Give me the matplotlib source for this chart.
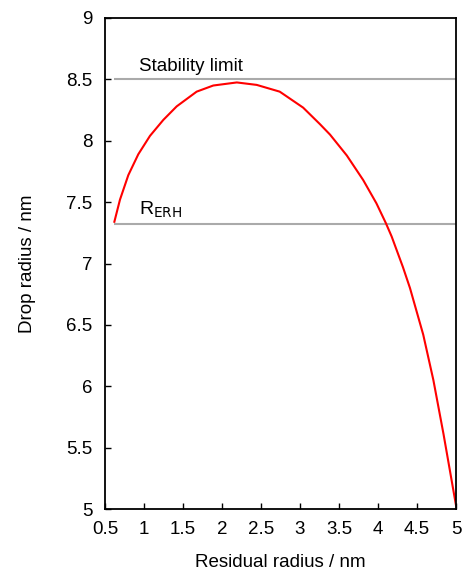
import matplotlib
matplotlib.use("Agg")
import matplotlib.pyplot as plt

plt.rcParams["font.family"] = ["Liberation Sans", "DejaVu Sans"]

# Residual radius (nm) vs drop radius (nm)
raio_residual = [0.62, 0.692, 0.799, 0.927, 1.077, 1.248, 1.419, 1.675, 1.888,
                 2.19, 2.445, 2.74, 3.04, 3.256, 3.385, 3.60, 3.81, 3.98, 4.10,
                 4.175, 4.32, 4.41, 4.58, 4.71, 4.84, 5.0]
raio_gota = [7.34, 7.52, 7.72, 7.89, 8.04, 8.17, 8.28, 8.40, 8.45,
             8.475, 8.455, 8.40, 8.27, 8.135, 8.05, 7.88, 7.68, 7.49, 7.33,
             7.22, 6.97, 6.80, 6.42, 6.05, 5.61, 5.03]

limite_estabilidade = 8.5
raio_erh = 7.32
inicio_linhas = 0.61

fig = plt.figure(figsize=(4.65, 5.7), dpi=100)
ax = fig.add_axes([105 / 465, 61 / 570, 351 / 465, 491 / 570])

ax.hlines([limite_estabilidade, raio_erh], inicio_linhas, 5.0, color="#aaaaaa", lw=1.5)
ax.plot(raio_residual, raio_gota, color="#ff0000", lw=1.5)

ax.text(0.94, 8.565, "Stability limit", fontsize=13.5)
ax.text(0.94, 7.40, r"R$_{\mathrm{ERH}}$", fontsize=14)

ax.set_xlim(0.5, 5)
ax.set_ylim(5, 9)
ax.set_xticks([0.5, 1, 1.5, 2, 2.5, 3, 3.5, 4, 4.5, 5])
ax.set_yticks([5, 5.5, 6, 6.5, 7, 7.5, 8, 8.5, 9])
ax.set_xticklabels(["0.5", "1", "1.5", "2", "2.5", "3", "3.5", "4", "4.5", "5"])
ax.set_yticklabels(["5", "5.5", "6", "6.5", "7", "7.5", "8", "8.5", "9"])
ax.tick_params(direction="in", length=4, width=1, labelsize=13.5)
ax.tick_params(axis="x", pad=9)
ax.tick_params(axis="y", pad=9)
for lado in ax.spines.values():
    lado.set_linewidth(1.3)

ax.set_xlabel("Residual radius / nm", fontsize=13.5, labelpad=11)
ax.set_ylabel("Drop radius / nm", fontsize=13.5, labelpad=22)

fig.savefig("out.png", dpi=100)
